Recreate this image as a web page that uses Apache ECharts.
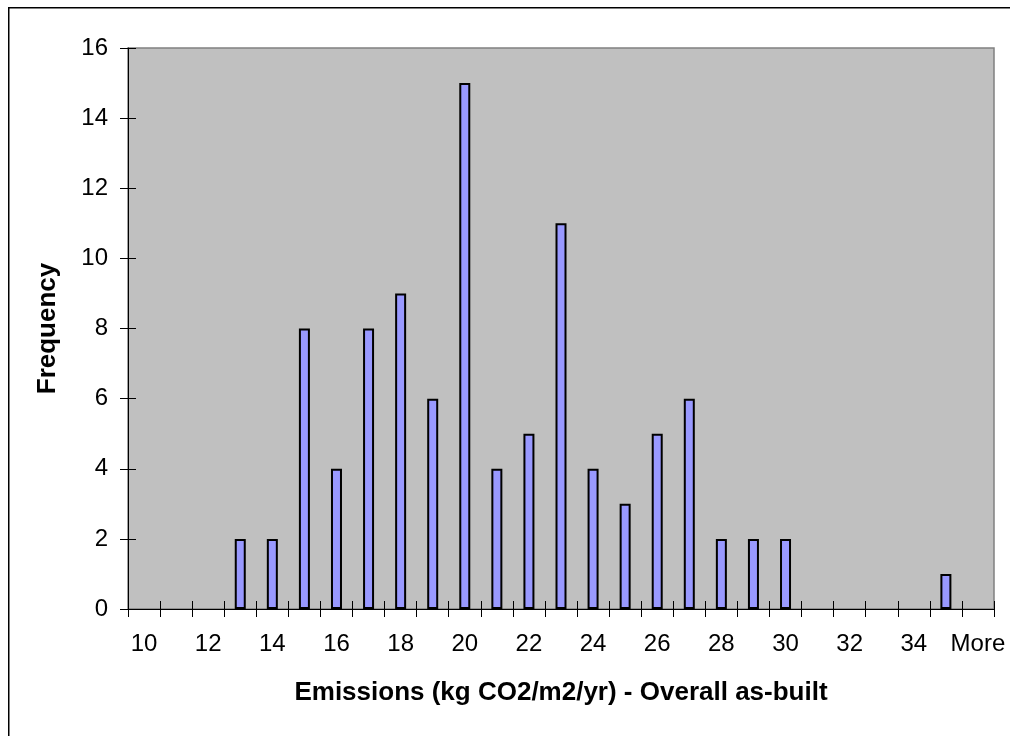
<!DOCTYPE html>
<html>
<head>
<meta charset="utf-8">
<script src="https://cdn.jsdelivr.net/npm/echarts@6/dist/echarts.min.js"></script>
<style>html,body{margin:0;padding:0;background:#fff;}#c{width:1010px;height:736px;}</style>
</head>
<body>
<div id="c"></div>
<script>
const categories = ['10','11','12','13','14','15','16','17','18','19','20','21','22','23','24','25','26','27','28','29','30','31','32','33','34','35','More'];
const frequency = [0,0,0,2,2,8,4,8,9,6,15,4,5,11,4,3,5,6,2,2,2,0,0,0,0,1,0];
const yTicks = {min: 0, max: 16, interval: 2};
const xTitle = 'Emissions (kg CO2/m2/yr) - Overall as-built';
const yTitle = 'Frequency';

const font = '"Liberation Sans", Arial, sans-serif';
const chart = echarts.init(document.getElementById('c'), null, {renderer: 'canvas'});
chart.setOption({
  animation: false,
  backgroundColor: '#ffffff',
  graphic: [{
    type: 'rect', left: 8, top: 7, z: -10,
    shape: {x: 0, y: 0, width: 1010, height: 740},
    style: {fill: 'transparent', stroke: '#000', lineWidth: 1.5}
  }],
  grid: {
    left: 128, top: 48, right: 16, bottom: 127,
    show: true, backgroundColor: '#C0C0C0', borderColor: '#808080', borderWidth: 1.5
  },
  xAxis: [{
    type: 'category', data: categories, position: 'bottom',
    axisLine: {show: true, lineStyle: {color: '#000', width: 1}},
    axisTick: {show: true, inside: false, length: 8, interval: 0, lineStyle: {color: '#000'}},
    axisLabel: {interval: function(i){return i % 2 === 0;}, color: '#000', fontSize: 24, fontFamily: font, margin: 23},
    name: xTitle, nameLocation: 'middle', nameGap: 71,
    nameTextStyle: {color: '#000', fontSize: 26, fontWeight: 'bold', fontFamily: font},
    splitLine: {show: false}
  }, {
    type: 'category', data: categories, position: 'bottom',
    axisLine: {show: false},
    axisTick: {show: true, inside: true, length: 8, interval: 0, lineStyle: {color: '#000'}},
    axisLabel: {show: false}, splitLine: {show: false}
  }],
  yAxis: [{
    type: 'value', min: yTicks.min, max: yTicks.max, interval: yTicks.interval, position: 'left',
    axisLine: {show: true, lineStyle: {color: '#000', width: 1}},
    axisTick: {show: true, inside: false, length: 8, lineStyle: {color: '#000'}},
    axisLabel: {color: '#000', fontSize: 24, fontFamily: font, margin: 20},
    name: yTitle, nameLocation: 'middle', nameGap: 67, nameRotate: 90,
    nameTextStyle: {color: '#000', fontSize: 26, fontWeight: 'bold', fontFamily: font},
    splitLine: {show: false}
  }, {
    type: 'value', min: yTicks.min, max: yTicks.max, interval: yTicks.interval, position: 'left',
    axisLine: {show: false},
    axisTick: {show: true, inside: true, length: 8, lineStyle: {color: '#000'}},
    axisLabel: {show: false}, splitLine: {show: false}
  }],
  series: [{
    type: 'bar', xAxisIndex: 0, yAxisIndex: 0,
    data: frequency.map(function(v){ return v === 0 ? '-' : v; }),
    barWidth: 11,
    itemStyle: {color: '#9999FF', borderColor: '#000', borderWidth: 2}
  }]
});
</script>
</body>
</html>
